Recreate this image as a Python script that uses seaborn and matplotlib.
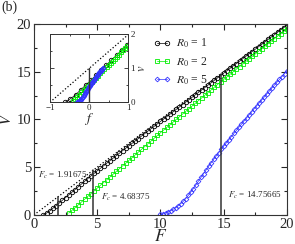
import matplotlib
matplotlib.use("Agg")
import matplotlib.pyplot as plt
from matplotlib.ticker import MultipleLocator
import numpy as np
import seaborn as sns

# R0 = 1
F1 = [0.75, 1.0, 1.25, 1.5, 1.75, 2.0, 2.25, 2.5, 2.75, 3.0, 3.25, 3.5, 3.75, 4.0,
      4.25, 4.5, 4.75, 5.0, 5.25, 5.5, 5.75, 6.0, 6.25, 6.5, 6.75, 7.0, 7.25, 7.5,
      7.75, 8.0, 8.25, 8.5, 8.75, 9.0, 9.25, 9.5, 9.75, 10.0, 10.25, 10.5, 10.75,
      11.0, 11.25, 11.5, 11.75, 12.0, 12.25, 12.5, 12.75, 13.0, 13.25, 13.5, 13.75,
      14.0, 14.25, 14.5, 14.75, 15.0, 15.25, 15.5, 15.75, 16.0, 16.25, 16.5, 16.75,
      17.0, 17.25, 17.5, 17.75, 18.0, 18.25, 18.5, 18.75, 19.0, 19.25, 19.5, 19.75, 20.0]
V1 = [0.00, 0.20, 0.42, 0.70, 0.98, 1.25, 1.54, 1.82, 2.10, 2.38, 2.66, 2.95, 3.23, 3.52,
      3.80, 4.08, 4.35, 4.62, 4.88, 5.14, 5.41, 5.68, 5.94, 6.20, 6.46, 6.72, 6.98, 7.24,
      7.49, 7.75, 8.00, 8.26, 8.51, 8.77, 9.02, 9.28, 9.53, 9.79, 10.04, 10.30, 10.55,
      10.80, 11.06, 11.31, 11.56, 11.82, 12.07, 12.32, 12.58, 12.83, 13.08, 13.33, 13.59,
      13.84, 14.09, 14.34, 14.59, 14.85, 15.10, 15.35, 15.60, 15.85, 16.10, 16.36, 16.61,
      16.86, 17.11, 17.36, 17.61, 17.86, 18.11, 18.37, 18.62, 18.87, 19.12, 19.37, 19.62, 19.87]

# R0 = 2
F2 = [2.75, 3.0, 3.25, 3.5, 3.75, 4.0, 4.25, 4.5, 4.75, 5.0, 5.25, 5.5, 5.75, 6.0,
      6.25, 6.5, 6.75, 7.0, 7.25, 7.5, 7.75, 8.0, 8.25, 8.5, 8.75, 9.0, 9.25, 9.5,
      9.75, 10.0, 10.25, 10.5, 10.75, 11.0, 11.25, 11.5, 11.75, 12.0, 12.25, 12.5,
      12.75, 13.0, 13.25, 13.5, 13.75, 14.0, 14.25, 14.5, 14.75, 15.0, 15.25, 15.5,
      15.75, 16.0, 16.25, 16.5, 16.75, 17.0, 17.25, 17.5, 17.75, 18.0, 18.25, 18.5,
      18.75, 19.0, 19.25, 19.5, 19.75, 20.0]
V2 = [0.20, 0.48, 0.77, 1.06, 1.35, 1.64, 1.94, 2.23, 2.52, 2.81, 3.10, 3.39, 3.68, 3.97,
      4.26, 4.55, 4.84, 5.13, 5.42, 5.71, 6.00, 6.29, 6.58, 6.87, 7.16, 7.45, 7.74, 8.03,
      8.32, 8.61, 8.89, 9.17, 9.45, 9.73, 10.01, 10.29, 10.57, 10.85, 11.13, 11.41,
      11.69, 11.97, 12.25, 12.53, 12.81, 13.09, 13.37, 13.65, 13.92, 14.19, 14.46, 14.73,
      15.00, 15.27, 15.53, 15.80, 16.07, 16.33, 16.60, 16.86, 17.13, 17.39, 17.66, 17.92,
      18.19, 18.45, 18.71, 18.97, 19.23, 19.49]

# R0 = 5
F5 = [10.0, 10.2, 10.4, 10.6, 10.8, 11.0, 11.2, 11.4, 11.6, 11.8, 12.0, 12.2, 12.4,
      12.6, 12.8, 13.0, 13.2, 13.4, 13.6, 13.8, 14.0, 14.2, 14.4, 14.6, 14.8, 15.0,
      15.2, 15.4, 15.6, 15.8, 16.0, 16.2, 16.4, 16.6, 16.8, 17.0, 17.2, 17.4, 17.6,
      17.8, 18.0, 18.2, 18.4, 18.6, 18.8, 19.0, 19.2, 19.4, 19.6, 19.8, 20.0]
V5 = [0.05, 0.12, 0.21, 0.32, 0.45, 0.60, 0.77, 0.96, 1.18, 1.43, 1.72, 2.05, 2.40,
      2.77, 3.15, 3.54, 3.93, 4.32, 4.70, 5.08, 5.45, 5.81, 6.17, 6.52, 6.87, 7.21,
      7.54, 7.87, 8.20, 8.53, 8.86, 9.19, 9.51, 9.83, 10.15, 10.47, 10.79, 11.11, 11.42,
      11.73, 12.04, 12.35, 12.66, 12.97, 13.28, 13.59, 13.89, 14.19, 14.49, 14.79, 15.09]

Fc = [1.91675, 4.68375, 14.75665]
labels = [r"$R_0$ = 1", r"$R_0$ = 2", r"$R_0$ = 5"]
colors = ["#000000", "#00ee00", "#3333ff"]
markers = ["o", "s", "D"]
msizes = [3.2, 3.0, 2.4]

sns.set_style("ticks")
plt.rcParams["font.family"] = ["Liberation Serif", "DejaVu Serif"]
plt.rcParams["mathtext.fontset"] = "stix"

fig = plt.figure(figsize=(2.95, 2.44), dpi=100)
ax = fig.add_axes([0.115, 0.119, 0.858, 0.783])

series = [(F1, V1), (F2, V2), (F5, V5)]
for (F, V), lab, c, m, ms in zip(series, labels, colors, markers, msizes):
    sns.lineplot(x=F, y=V, ax=ax, color=c, marker=m, markersize=ms,
                 markerfacecolor="none", markeredgecolor=c, markeredgewidth=0.6,
                 linewidth=0.5, label=lab, sort=False, estimator=None)

ax.plot([0, 20], [0, 20], color="black", linestyle=":", linewidth=0.9, zorder=0)
for fc in Fc:
    ax.plot([fc, fc], [0, fc], color="#333333", linewidth=1.1)

ax.text(0.35, 3.9, r"$F_c$ = 1.91675", fontsize=6.5)
ax.text(5.3, 1.6, r"$F_c$ = 4.68375", fontsize=6.5)
ax.text(15.3, 1.8, r"$F_c$ = 14.75665", fontsize=6.5)

ax.set_xlim(0, 20)
ax.set_ylim(0, 20)
ax.xaxis.set_major_locator(MultipleLocator(5))
ax.xaxis.set_minor_locator(MultipleLocator(2.5))
ax.yaxis.set_major_locator(MultipleLocator(5))
ax.yaxis.set_minor_locator(MultipleLocator(2.5))
ax.tick_params(which="both", direction="in", top=True, right=True, labelsize=10.5,
               width=0.8, pad=2)
ax.tick_params(which="major", length=4)
ax.tick_params(which="minor", length=2)
for s in ax.spines.values():
    s.set_linewidth(0.8)
    s.set_color("#333333")
ax.set_xlabel(r"$F$", fontsize=12.5, labelpad=-1)
ax.set_ylabel(r"$V$", fontsize=12.5)
ax.yaxis.set_label_coords(-0.074, 0.5)

leg = ax.legend(loc="upper left", bbox_to_anchor=(0.44, 0.975), frameon=False,
                numpoints=2, fontsize=8.4, handlelength=1.5, handletextpad=0.45,
                labelspacing=0.4, borderpad=0.2)

# inset: scaled curves f = (F - Fc)/Fc, v = V/Fc
axi = fig.add_axes([0.1695, 0.581, 0.266, 0.278])
for (F, V), fc, c, m, ms in zip(series, Fc, colors, markers, msizes):
    f = (np.array(F) - fc) / fc
    v = np.array(V) / fc
    sns.lineplot(x=f, y=v, ax=axi, color=c, marker=m, markersize=ms,
                 markerfacecolor="none", markeredgecolor=c, markeredgewidth=0.6,
                 linewidth=0.5, sort=False, estimator=None, legend=False)
axi.plot([-1, 1], [0, 2], color="black", linestyle=":", linewidth=0.9, zorder=0)
axi.plot([0, 0], [0, 1], color="#333333", linewidth=1.0)
axi.set_xlim(-1, 1)
axi.set_ylim(0, 2)
axi.xaxis.set_major_locator(MultipleLocator(1))
axi.xaxis.set_minor_locator(MultipleLocator(0.5))
axi.yaxis.set_major_locator(MultipleLocator(1))
axi.yaxis.set_minor_locator(MultipleLocator(0.5))
axi.yaxis.tick_right()
axi.yaxis.set_label_position("right")
axi.tick_params(which="both", direction="in", top=True, left=True, right=True,
                labelsize=6.5, width=0.6, pad=1.5)
axi.tick_params(which="major", length=3)
axi.tick_params(which="minor", length=1.5)
for s in axi.spines.values():
    s.set_linewidth(0.7)
    s.set_color("#333333")
axi.set_xlabel(r"$f$", fontsize=10, labelpad=-1)
axi.set_ylabel(r"$v$", fontsize=9, labelpad=1)

fig.text(0.005, 0.955, "(b)", fontsize=10)

fig.savefig("out.png", dpi=100)
